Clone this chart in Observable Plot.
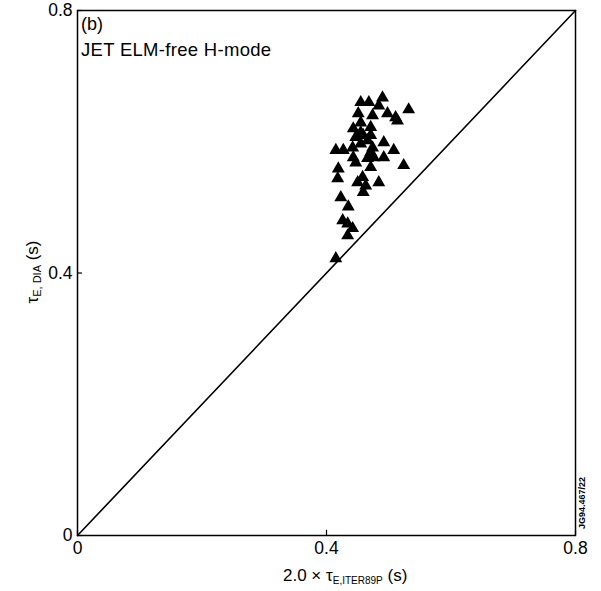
<!DOCTYPE html>
<html><head><meta charset="utf-8">
<script src="https://cdn.jsdelivr.net/npm/d3@7"></script>
<script src="https://cdn.jsdelivr.net/npm/@observablehq/plot@0.6"></script>
<style>body{margin:0;background:#fff}</style>
</head><body><div id="chart"></div>
<script>
const xTicks = [0, 0.4, 0.8];
const yTicks = [0, 0.4, 0.8];
const tickLabels = ["0", "0.4", "0.8"];
const diagonal = [0, 0.8];
const xVals = [0.455,0.468,0.490,0.484,0.532,0.498,0.511,0.514,0.451,0.474,0.455,0.443,0.471,0.455,0.459,0.447,0.471,0.466,0.492,0.415,0.427,0.442,0.455,0.474,0.508,0.443,0.471,0.476,0.466,0.492,0.447,0.471,0.524,0.419,0.418,0.458,0.450,0.463,0.484,0.459,0.423,0.435,0.426,0.434,0.442,0.434,0.415];
const yVals = [0.660,0.660,0.667,0.655,0.649,0.643,0.637,0.632,0.643,0.640,0.629,0.620,0.622,0.614,0.610,0.607,0.610,0.602,0.599,0.587,0.587,0.591,0.597,0.591,0.587,0.576,0.584,0.576,0.575,0.576,0.568,0.561,0.564,0.559,0.544,0.546,0.538,0.533,0.538,0.523,0.515,0.501,0.480,0.475,0.468,0.457,0.422];
const points = xVals.map((x, i) => ({x, y: yVals[i]}));
const font = "'Liberation Sans', Arial, Helvetica, sans-serif";

const plot = Plot.plot({
  width: 601, height: 591,
  marginLeft: 77, marginRight: 26, marginTop: 10, marginBottom: 56,
  style: {fontFamily: font, fontSize: "16px", color: "#000", background: "#fff"},
  x: {domain: [0, 0.8]},
  y: {domain: [0, 0.8]},
  marks: [
    Plot.frame({stroke: "#000", strokeWidth: 1.5}),
    Plot.axisX(xTicks, {tickSize: 0, tickPadding: 6, tickFormat: (d, i) => tickLabels[i], label: null, fontSize: 17.5}),
    Plot.axisY(yTicks, {tickSize: 0, tickPadding: 5, tickFormat: (d, i) => tickLabels[i], label: null, fontSize: 17.5}),
    Plot.ruleX(xTicks, {y1: 0, y2: 0.008, stroke: "#000", strokeWidth: 1.2}),
    Plot.ruleY(yTicks, {x1: 0, x2: 0.008, stroke: "#000", strokeWidth: 1.2}),
    Plot.line(diagonal.map(d => [d, d]), {stroke: "#000", strokeWidth: 1.6}),
    Plot.dot(points, {x: "x", y: "y", symbol: "triangle", r: 4.8, fill: "#000", stroke: "none"})
  ]
});
document.getElementById("chart").appendChild(plot);

const svg = d3.select(plot);
// in-panel annotations
svg.append("text").attr("x", 81).attr("y", 30).attr("text-anchor", "start").attr("font-family", font).attr("font-size", 18).text("(b)");
svg.append("text").attr("x", 81).attr("y", 56).attr("text-anchor", "start").attr("font-family", font).attr("font-size", 18.5).attr("letter-spacing", 0.3).text("JET ELM-free H-mode");
// x label
const xl = svg.append("text").attr("x", 283).attr("y", 581).attr("text-anchor", "start").attr("font-family", font).attr("font-size", 17);
xl.append("tspan").text("2.0 × τ");
xl.append("tspan").attr("font-size", 10).attr("dy", 3).text("E,ITER89P");
xl.append("tspan").attr("dy", -3).text(" (s)");
// y label
const yl = svg.append("text").attr("transform", "translate(38,272) rotate(-90)").attr("text-anchor", "middle").attr("font-family", font).attr("font-size", 17);
yl.append("tspan").text("τ");
yl.append("tspan").attr("font-size", 11).attr("dy", 3).text("E, DIA");
yl.append("tspan").attr("dy", -3).text(" (s)");
// watermark
svg.append("text").attr("transform", "translate(585,503) rotate(-90)").attr("text-anchor", "middle").attr("font-family", font).attr("font-size", 9).attr("font-weight", "bold").text("JG94.467/22");
</script>
</body></html>
